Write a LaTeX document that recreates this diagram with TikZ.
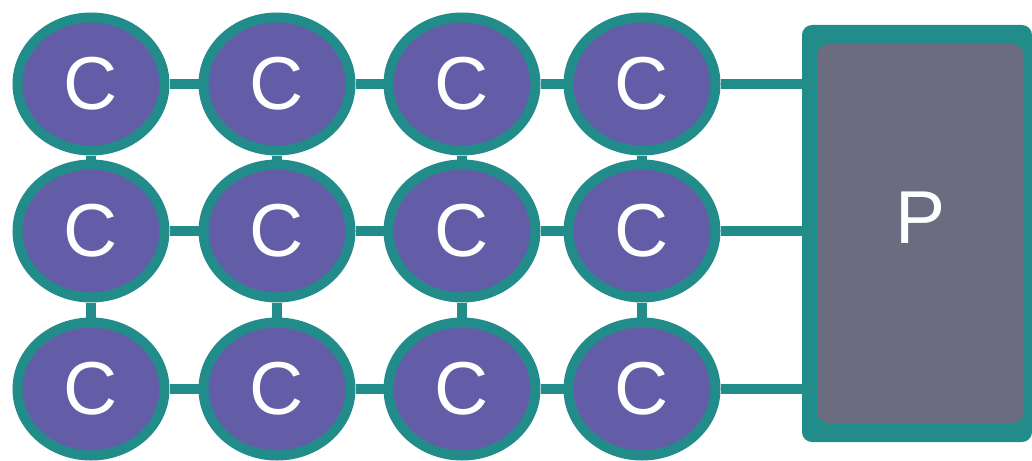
\documentclass[tikz,border=0pt]{standalone}
\usepackage{fontspec}
\setmainfont{Liberation Sans}
\usetikzlibrary{shapes.geometric}
\definecolor{tealc}{HTML}{228C8A}
\definecolor{purc}{HTML}{635DA8}
\definecolor{grayc}{HTML}{6B6C80}
\tikzset{
  cnode/.style={ellipse, draw=tealc, fill=purc, line width=10pt, minimum width=147pt, minimum height=133pt, inner sep=0pt, text=white, font=\fontsize{75}{75}\selectfont},
  link/.style={draw=tealc, line width=10pt},
  pbox/.style={rectangle, rounded corners=12pt, fill=grayc, minimum width=207pt, minimum height=379pt, inner sep=0pt},
}
\begin{document}
\begin{tikzpicture}[x=1pt,y=-1pt]
\useasboundingbox (0,0) rectangle (1032,460);
% outer teal frame of P
\fill[tealc, rounded corners=10pt] (802,25) rectangle (1032,442);
\node[pbox, label={[text=white, font=\fontsize{75}{75}\selectfont, yshift=16pt]center:P}] (P) at (920.5,233.5) {};
% C nodes
\foreach \r/\y in {1/84, 2/231, 3/389}{
  \foreach \c/\x in {1/91, 2/277, 3/462, 4/642}{
    \node[cnode] (c\r\c) at (\x,\y) {C};
  }
}
% horizontal links
\foreach \r in {1,2,3}{
  \draw[link] (c\r1) -- (c\r2);
  \draw[link] (c\r2) -- (c\r3);
  \draw[link] (c\r3) -- (c\r4);
  \draw[link] (c\r4.east) -- (c\r4.east -| P.west);
}
% vertical links
\foreach \c in {1,2,3,4}{
  \draw[link] (c1\c) -- (c2\c);
  \draw[link] (c2\c) -- (c3\c);
}
\end{tikzpicture}
\end{document}
